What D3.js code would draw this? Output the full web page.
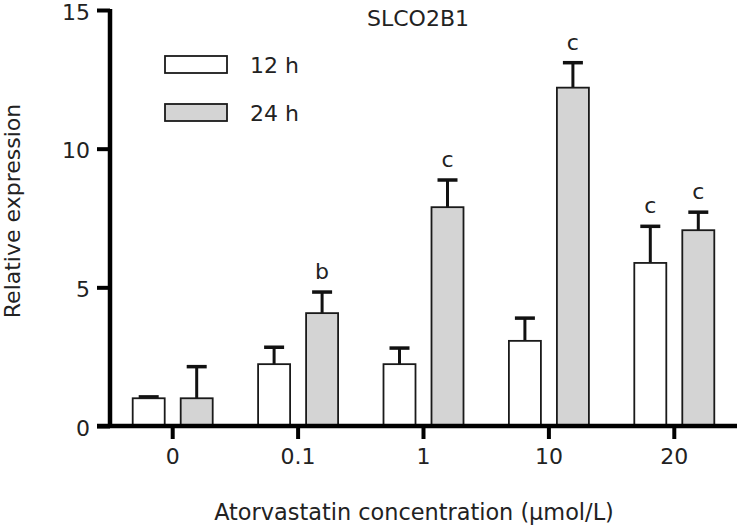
<!DOCTYPE html>
<html>
<head>
<meta charset="utf-8">
<script src="https://cdn.jsdelivr.net/npm/d3@7"></script>
<style>
  html, body { margin: 0; padding: 0; background: #fff; }
  svg { display: block; }
  text { font-family: "DejaVu Sans", sans-serif; fill: #222; }
</style>
</head>
<body>
<svg id="chart" width="740" height="526"></svg>
<script>
const categories = ["0", "0.1", "1", "10", "20"];
const seriesNames = ["12 h", "24 h"];
const values12h = [1.0, 2.23, 2.23, 3.07, 5.88];
const errors12h = [0.05, 0.61, 0.58, 0.82, 1.32];
const values24h = [1.0, 4.07, 7.89, 12.2, 7.06];
const errors24h = [1.14, 0.76, 0.98, 0.9, 0.65];
const labels12h = ["", "", "", "", "c"];
const labels24h = ["", "b", "c", "c", "c"];
const yTicks = [0, 5, 10, 15];
const title = "SLCO2B1";
const xTitle = "Atorvastatin concentration (\u03bcmol/L)";
const yTitle = "Relative expression";

const fills = ["#ffffff", "#d4d4d4"];
const svg = d3.select("#chart");

const x0 = d3.scaleBand().domain(categories).range([110, 737]).paddingInner(0).paddingOuter(0);
const bw0 = x0.bandwidth();
const x1 = d3.scaleBand().domain(seriesNames).range([bw0 / 2 - 40, bw0 / 2 + 40]).paddingInner(1 / 3).paddingOuter(0);
const y = d3.scaleLinear().domain([0, 15]).range([426, 10]);

const data = categories.map((c, i) => ({
  cat: c,
  items: [
    { s: seriesNames[0], v: values12h[i], e: errors12h[i], lab: labels12h[i], fill: fills[0] },
    { s: seriesNames[1], v: values24h[i], e: errors24h[i], lab: labels24h[i], fill: fills[1] }
  ]
}));

const groups = svg.append("g").selectAll("g").data(data).join("g")
  .attr("transform", d => `translate(${x0(d.cat)},0)`);

// error bars (drawn first so bars cover the stem base)
groups.selectAll("g.err").data(d => d.items).join("g").attr("class", "err").each(function(d) {
  const g = d3.select(this);
  const cx = x1(d.s) + x1.bandwidth() / 2;
  g.append("line").attr("x1", cx).attr("x2", cx).attr("y1", y(d.v)).attr("y2", y(d.v + d.e))
    .attr("stroke", "#111").attr("stroke-width", 3);
  g.append("line").attr("x1", cx - 10).attr("x2", cx + 10).attr("y1", y(d.v + d.e)).attr("y2", y(d.v + d.e))
    .attr("stroke", "#111").attr("stroke-width", 3.5);
  if (d.lab) {
    g.append("text").attr("x", cx).attr("y", y(d.v + d.e) - 13).attr("text-anchor", "middle")
      .attr("font-size", 22).text(d.lab);
  }
});

groups.selectAll("rect").data(d => d.items).join("rect")
  .attr("x", d => x1(d.s))
  .attr("width", x1.bandwidth())
  .attr("y", d => y(d.v))
  .attr("height", d => y(0) - y(d.v))
  .attr("fill", d => d.fill)
  .attr("stroke", "#1a1a1a")
  .attr("stroke-width", 1.8);

// y axis
const yAxis = d3.axisLeft(y).tickValues(yTicks).tickSize(13).tickPadding(7).tickFormat(d3.format("d"));
const gy = svg.append("g").attr("transform", "translate(110,0)").call(yAxis);
gy.select(".domain").attr("stroke", "#000").attr("stroke-width", 4.5).attr("d", `M0,${y(15) - 1}V${y(0)}`);
gy.selectAll(".tick line").attr("stroke", "#000").attr("stroke-width", 4);
gy.selectAll(".tick text").attr("font-size", 22).attr("font-family", "DejaVu Sans").attr("fill", "#222")
  .attr("dy", "0.42em");

// x axis
const xAxis = d3.axisBottom(x0).tickSize(13).tickPadding(9);
const gx = svg.append("g").attr("transform", `translate(0,${y(0)})`).call(xAxis);
gx.select(".domain").attr("stroke", "#000").attr("stroke-width", 4.5).attr("d", "M97,0H737");
gx.selectAll(".tick line").attr("stroke", "#000").attr("stroke-width", 4);
gx.selectAll(".tick text").attr("font-size", 22).attr("font-family", "DejaVu Sans").attr("fill", "#222");

// legend
const legend = svg.append("g");
seriesNames.forEach((s, i) => {
  const ly = 56 + i * 48;
  legend.append("rect").attr("x", 165).attr("y", ly).attr("width", 62).attr("height", 17)
    .attr("fill", fills[i]).attr("stroke", "#1a1a1a").attr("stroke-width", 1.8);
  legend.append("text").attr("x", 250).attr("y", ly + 17).attr("font-size", 22).text(s);
});

// titles
svg.append("text").attr("x", 367).attr("y", 26).attr("font-size", 22).text(title);
svg.append("text").attr("x", 414).attr("y", 520).attr("text-anchor", "middle").attr("font-size", 22.4).text(xTitle);
svg.append("text").attr("transform", "translate(20,211) rotate(-90)").attr("text-anchor", "middle")
  .attr("font-size", 22).text(yTitle);
</script>
</body>
</html>
